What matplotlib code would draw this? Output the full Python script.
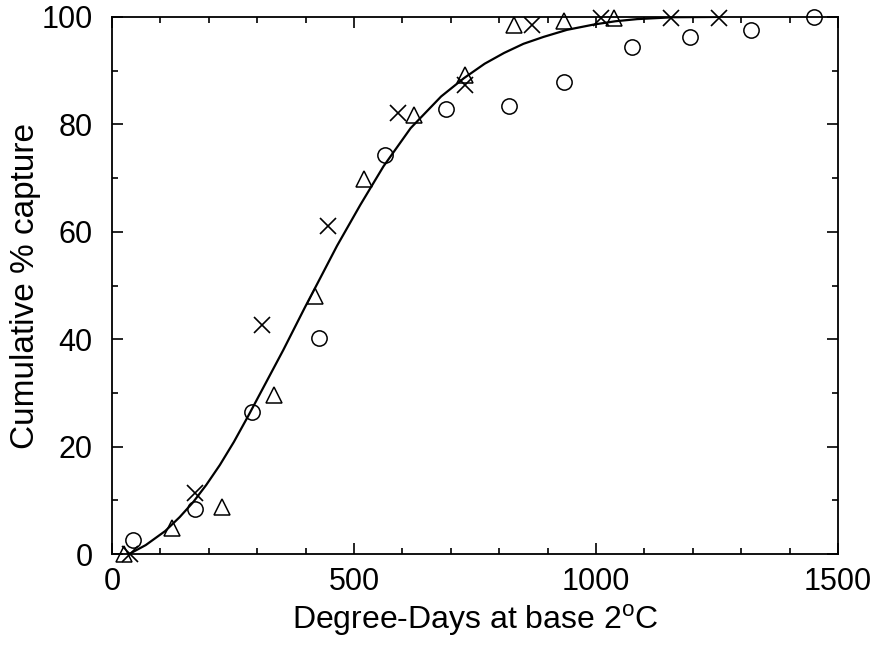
import matplotlib
matplotlib.use("Agg")
import matplotlib.pyplot as plt
from matplotlib.ticker import MultipleLocator

# data
circ_x = [44, 172, 289, 427, 565, 690, 820, 934, 1075, 1193, 1319, 1451]
circ_y = [2.6, 8.5, 26.5, 40.2, 74.3, 82.8, 83.4, 87.8, 94.5, 96.3, 97.5, 100]
tri_x = [25, 124, 227, 335, 420, 520, 623, 730, 830, 934, 1037]
tri_y = [0, 4.9, 8.8, 29.6, 48.1, 69.8, 81.7, 89.2, 98.5, 99.3, 99.8]
cross_x = [37, 172, 310, 446, 590, 730, 868, 1010, 1155, 1254]
cross_y = [0, 11.3, 42.6, 61.1, 82.2, 87.3, 98.5, 99.8, 99.8, 99.8]

# fitted curve
fit_x = [35, 70, 110, 140, 168, 195, 223, 252, 282, 318, 354, 399, 424, 465, 513,
         561, 617, 680, 727, 770, 810, 850, 892, 940, 996, 1040, 1085, 1160, 1250]
fit_y = [0, 1.7, 4.3, 6.9, 9.7, 12.9, 16.6, 20.9, 25.8, 31.9, 38.0, 46.0, 50.3, 57.4, 65.0,
         72.2, 79.3, 85.2, 88.6, 91.3, 93.3, 95.0, 96.3, 97.6, 98.6, 99.2, 99.6, 99.95, 100]

plt.rcParams['font.family'] = ['Liberation Sans', 'DejaVu Sans']
plt.rcParams['font.size'] = 22

fig = plt.figure(figsize=(8.74, 6.52), dpi=100)
ax = fig.add_axes([0.128, 0.150, 0.831, 0.824])

ax.plot(fit_x, fit_y, "-", color="black", linewidth=1.6)
ax.plot(circ_x, circ_y, "o", mfc="none", mec="black", ms=11, mew=1.1, clip_on=False)
ax.plot(tri_x, tri_y, "^", mfc="none", mec="black", ms=11, mew=1.1, clip_on=False)
ax.plot(cross_x, cross_y, "x", color="black", ms=11, mew=1.2, clip_on=False)

ax.set_xlim(0, 1500)
ax.set_ylim(0, 100)
ax.xaxis.set_major_locator(MultipleLocator(500))
ax.xaxis.set_minor_locator(MultipleLocator(100))
ax.yaxis.set_major_locator(MultipleLocator(20))
ax.yaxis.set_minor_locator(MultipleLocator(10))
ax.tick_params(which="both", direction="in", top=True, right=True, width=1.2)
ax.tick_params(axis="y", which="major", length=8, pad=14)
ax.tick_params(axis="x", which="major", length=8, pad=9)
ax.tick_params(which="minor", length=4.5)
for s in ax.spines.values():
    s.set_linewidth(1.3)

ax.set_xlabel(r"Degree-Days at base 2$^\mathregular{o}$C", fontsize=23, labelpad=4)
ax.set_ylabel("Cumulative % capture", fontsize=24, labelpad=0)

plt.savefig("out.png", dpi=100)
